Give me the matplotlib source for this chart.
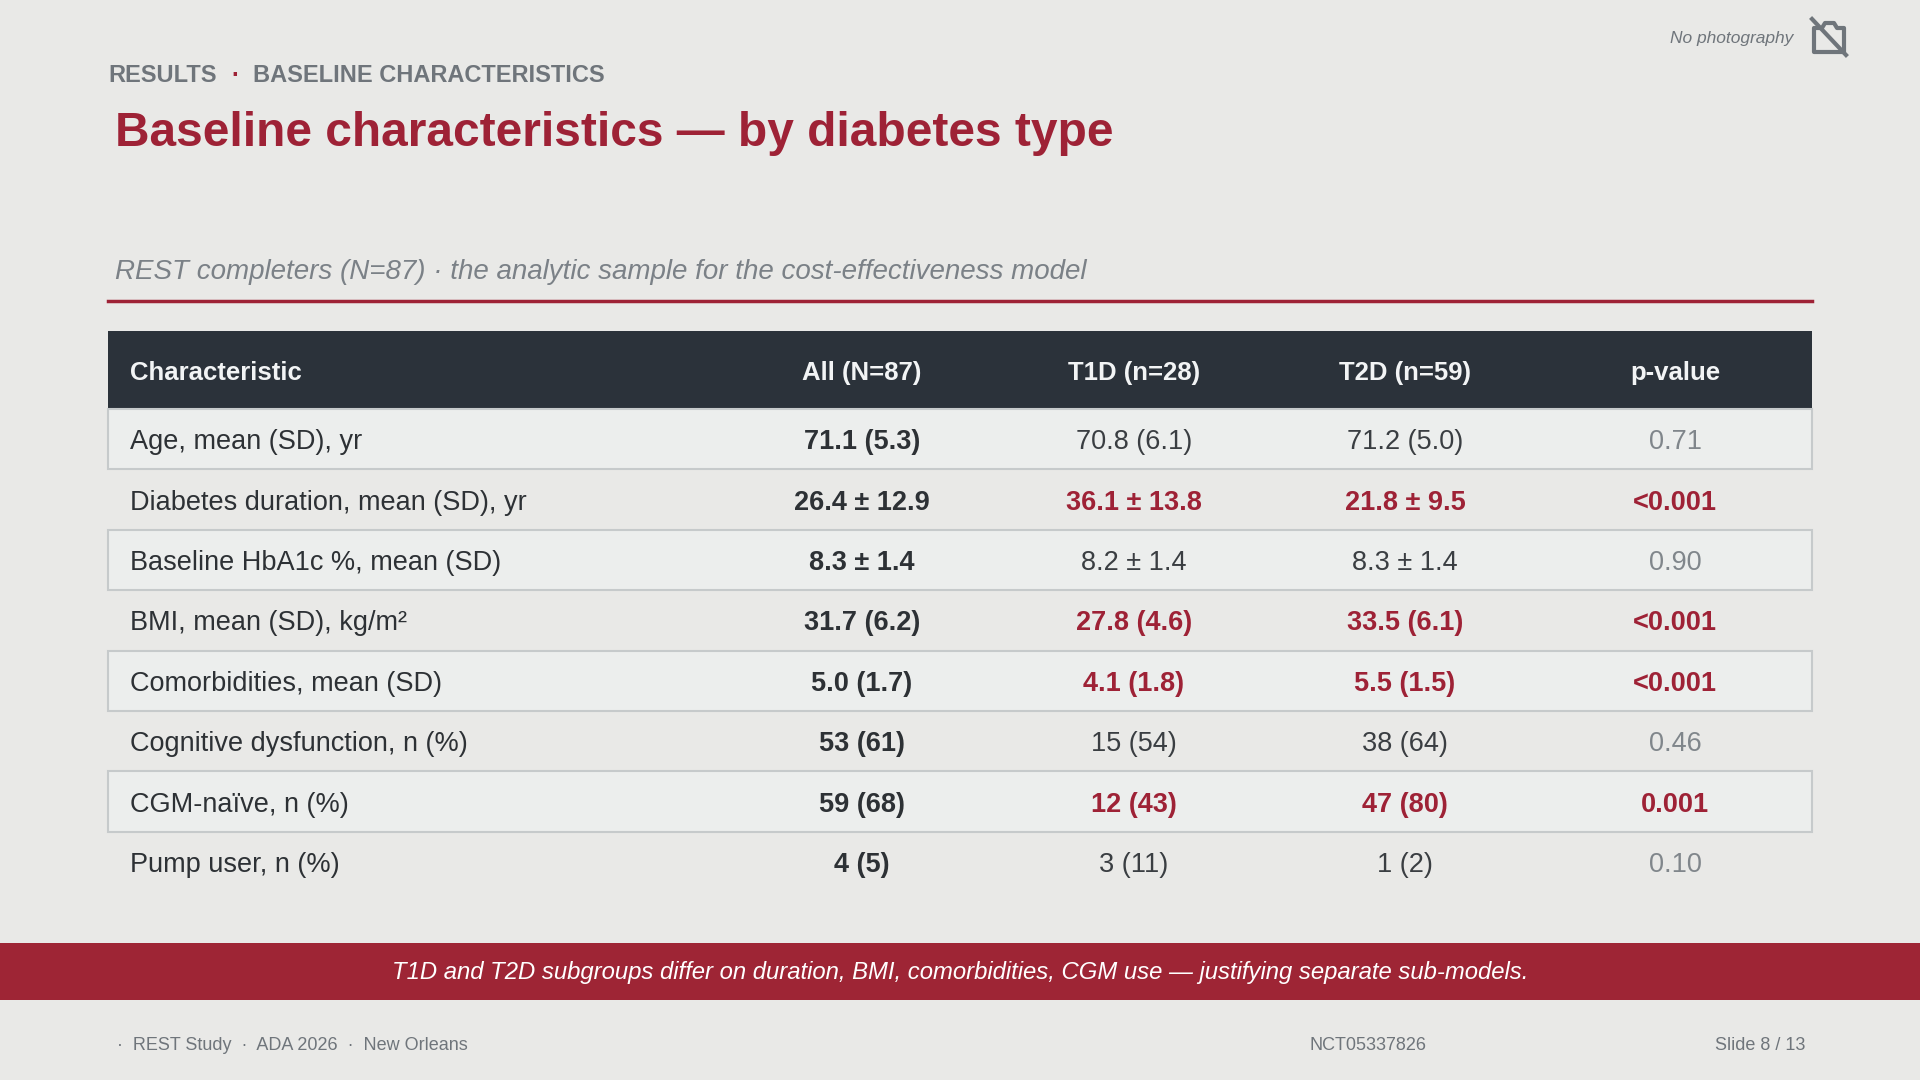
import matplotlib.pyplot as plt
from matplotlib.patches import Rectangle, Polygon
import matplotlib.lines as mlines

plt.rcParams['font.family'] = ['Liberation Sans', 'DejaVu Sans']

# table data
columns = ["Characteristic", "All (N=87)", "T1D (n=28)", "T2D (n=59)", "p-value"]
characteristics = ["Age, mean (SD), yr", "Diabetes duration, mean (SD), yr",
                   "Baseline HbA1c %, mean (SD)", "BMI, mean (SD), kg/m²",
                   "Comorbidities, mean (SD)", "Cognitive dysfunction, n (%)",
                   "CGM-naïve, n (%)", "Pump user, n (%)"]
all_vals = ["71.1 (5.3)", "26.4 ± 12.9", "8.3 ± 1.4", "31.7 (6.2)",
            "5.0 (1.7)", "53 (61)", "59 (68)", "4 (5)"]
t1d_vals = ["70.8 (6.1)", "36.1 ± 13.8", "8.2 ± 1.4", "27.8 (4.6)",
            "4.1 (1.8)", "15 (54)", "12 (43)", "3 (11)"]
t2d_vals = ["71.2 (5.0)", "21.8 ± 9.5", "8.3 ± 1.4", "33.5 (6.1)",
            "5.5 (1.5)", "38 (64)", "47 (80)", "1 (2)"]
p_vals = ["0.71", "<0.001", "0.90", "<0.001", "<0.001", "0.46", "0.001", "0.10"]
significant = [False, True, False, True, True, False, True, False]

BG = "#e9e9e7"
RED = "#9e2236"
DARK = "#2b323a"
GRAY = "#6f757b"
PGRAY = "#80868b"
TXT = "#2d3135"

fig = plt.figure(figsize=(19.2, 10.8), dpi=100, facecolor=BG)
ax = fig.add_axes([0, 0, 1, 1])
ax.set_xlim(0, 1920)
ax.set_ylim(1080, 0)
ax.axis("off")

# header area
ax.text(108, 75, "RESULTS", fontsize=17, fontweight="bold", color=GRAY, va="center")
ax.text(235, 75, "·", fontsize=17, fontweight="bold", color=RED, va="center", ha="center")
ax.text(253, 75, "BASELINE CHARACTERISTICS", fontsize=17, fontweight="bold", color=GRAY, va="center")
ax.text(115, 134, "Baseline characteristics — by diabetes type", fontsize=34.5,
        fontweight="bold", color=RED, va="center")
ax.text(1793, 38, "No photography", fontsize=12.5, style="italic", color=GRAY, va="center", ha="right")

# no-photo icon
cx, cy = 1829, 37
cam = Polygon([(cx-15, cy-9), (cx-7, cy-9), (cx-4, cy-14), (cx+5, cy-14), (cx+8, cy-9),
               (cx+15, cy-9), (cx+15, cy+15), (cx-15, cy+15)], closed=True,
              fill=False, ec=GRAY, lw=3, joinstyle="round")
ax.add_patch(cam)
ax.add_line(mlines.Line2D([cx-17, cx+17], [cy-18, cy+18], color=GRAY, lw=3))

ax.text(115, 272, "REST completers (N=87) · the analytic sample for the cost-effectiveness model",
        fontsize=20, style="italic", color="#7b8187", va="center")
ax.add_line(mlines.Line2D([108, 1812], [301, 301], color=RED, lw=2.5))

# table
x0, x1 = 108, 1812
top = 331
head_h = 78
row_h = 60.4
col_x = [130, 862, 1134, 1405, 1675]

ax.add_patch(Rectangle((x0, top), x1 - x0, head_h, color=DARK, lw=0))
for i, c in enumerate(columns):
    ax.text(col_x[i], top + head_h / 2 + 3, c, fontsize=18.5, fontweight="bold", color="#f2f4f5",
            va="center", ha="left" if i == 0 else "center")

for r in range(len(characteristics)):
    y = top + head_h + r * row_h
    if r % 2 == 0:
        ax.add_patch(Rectangle((x0, y), x1 - x0, row_h, fc="#eceeed", ec="#c6cacb", lw=1.5))
    yc = y + row_h / 2 + 3
    sig = significant[r]
    ax.text(col_x[0], yc, characteristics[r], fontsize=19.5, color=TXT, va="center")
    ax.text(col_x[1], yc, all_vals[r], fontsize=19.5, fontweight="bold", color=TXT,
            va="center", ha="center")
    for i, v in ((2, t1d_vals[r]), (3, t2d_vals[r])):
        ax.text(col_x[i], yc, v, fontsize=19.5, fontweight="bold" if sig else "normal",
                color=RED if sig else "#3a3e42", va="center", ha="center")
    ax.text(col_x[4], yc, p_vals[r], fontsize=19.5, fontweight="bold" if sig else "normal",
            color=RED if sig else PGRAY, va="center", ha="center")

# takeaway band
ax.add_patch(Rectangle((0, 943), 1920, 57, color="#9e2535", lw=0))
ax.text(960, 973, "T1D and T2D subgroups differ on duration, BMI, comorbidities, CGM use — justifying separate sub-models.",
        fontsize=17.2, style="italic", color="white", va="center", ha="center")

# footer
ax.text(117, 1045, "·  REST Study  ·  ADA 2026  ·  New Orleans", fontsize=13, color=GRAY, va="center")
ax.text(1368, 1045, "NCT05337826", fontsize=13, color=GRAY, va="center", ha="center")
ax.text(1805, 1045, "Slide 8 / 13", fontsize=13, color=GRAY, va="center", ha="right")

fig.savefig("out.png", dpi=100, facecolor=BG)
